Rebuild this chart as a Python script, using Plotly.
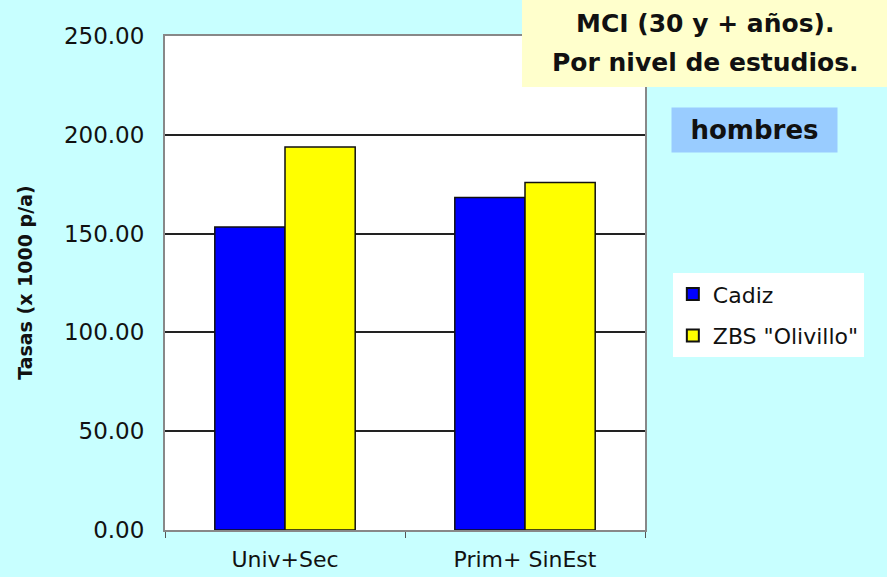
import plotly.graph_objects as go

categories = ['Univ+Sec', 'Prim+ SinEst']
cadiz = [153.4, 168.3]
olivillo = [193.8, 175.8]
y_ticks = [0, 50, 100, 150, 200, 250]
title_lines = ['MCI (30 y + años).', 'Por nivel de estudios.']

bg = '#C8FFFF'
font_family = 'DejaVu Sans, Liberation Sans, Arial, sans-serif'

fig = go.Figure()
fig.add_trace(go.Bar(x=categories, y=cadiz, name='Cadiz', legendgroup='a',
                     marker=dict(color='#0000FF', line=dict(color='#111111', width=1.5))))
fig.add_trace(go.Bar(x=categories, y=olivillo, name='ZBS "Olivillo"', legendgroup='b',
                     marker=dict(color='#FFFF00', line=dict(color='#111111', width=1.5))))

fig.update_layout(
    width=887, height=577,
    margin=dict(l=165, r=242, t=36, b=47),
    paper_bgcolor=bg,
    plot_bgcolor='white',
    font=dict(family=font_family, size=23, color='#111111'),
    barmode='group',
    bargap=0.415,
    bargroupgap=0,
    showlegend=True,
    legend=dict(x=1.058, y=0.52, xanchor='left', yanchor='top',
                bgcolor='white', font=dict(size=22),
                itemsizing='constant', tracegroupgap=10),
)

fig.update_xaxes(
    showline=True, linecolor='#888888', linewidth=2, mirror=True,
    ticks='outside', ticklen=6, tickcolor='#555555', tickson='boundaries',
    ticklabelstandoff=9, showgrid=False, automargin=False,
    tickfont=dict(size=22),
)
fig.update_yaxes(
    range=[0, 250], tickvals=y_ticks,
    ticktext=['%.2f' % v for v in y_ticks],
    showline=True, linecolor='#888888', linewidth=2, mirror=True,
    ticks='', ticklabelstandoff=14, automargin=False,
    showgrid=True, gridcolor='#222222', gridwidth=1.5,
    zeroline=False,
)

fig.add_annotation(
    text='<b>Tasas (x 1000 p/a)</b>', textangle=-90,
    xref='paper', yref='paper', x=-0.292, y=0.5,
    xanchor='center', yanchor='middle', showarrow=False,
    font=dict(size=19, color='#111111'),
)

# title box
fig.add_shape(type='rect', xref='paper', yref='paper',
              x0=(522 - 165) / 480, x1=(887 - 165) / 480,
              y0=(530 - 87) / 494, y1=(530 + 2) / 494,
              fillcolor='#FFFFCC', line=dict(width=0), layer='above')
for i, line in enumerate(title_lines):
    fig.add_annotation(
        text='<b>%s</b>' % line,
        xref='paper', yref='paper', x=(705 - 165) / 480,
        y=(530 - (24 + 38 * i)) / 494,
        xanchor='center', yanchor='middle', showarrow=False,
        font=dict(size=25, color='#111111'),
    )

fig.add_annotation(
    text='<b>hombres</b>',
    xref='paper', yref='paper', x=1.229, y=0.81,
    xanchor='center', yanchor='middle', showarrow=False,
    bgcolor='#99CCFF', borderpad=0, width=165, height=44,
    font=dict(size=26, color='#111111'),
)

fig.write_html('out.html', config={'displayModeBar': False},
               post_script="document.body.style.margin='0px';")
